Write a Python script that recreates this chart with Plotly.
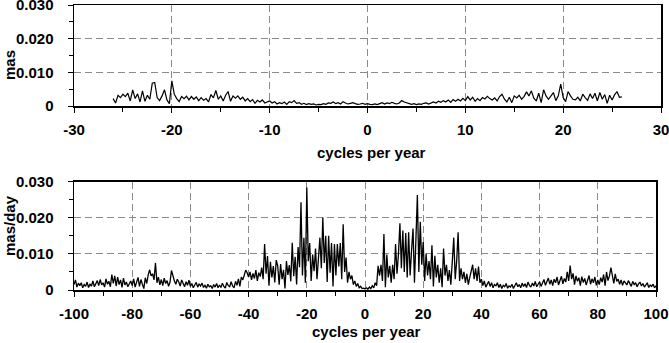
import plotly.graph_objects as go

# ---------------- data ----------------
# Top panel: amplitude spectrum in micro-arcseconds (µas), frequency grid -26 .. 26 cpy, step 0.25
top_freq_start = -26.0
top_freq_step = 0.25
top_amp_uas = [
    2.2, 0.9, 3.2, 2.5,   # -26
    3.5, 2.8, 3.8, 1.5,   # -25
    4.8, 2.2, 3.6, 1.2,   # -24
    4.5, 1.4, 3.2, 2.0,   # -23
    6.8, 7.0, 2.5, 1.6,   # -22
    3.0, 4.8, 1.8, 0.7,   # -21
    7.5, 3.5, 2.2, 1.3,   # -20
    2.8, 2.2, 2.9, 1.8,   # -19
    2.8, 2.0, 2.7, 1.6,   # -18
    2.5, 1.7, 2.2, 1.2,   # -17
    3.4, 2.4, 4.6, 2.0,   # -16
    3.0, 1.5, 3.2, 4.3,   # -15
    1.4, 3.0, 2.3, 3.0,   # -14
    2.0, 2.6, 1.5, 2.2,   # -13
    1.3, 1.9, 0.8, 1.7,   # -12
    1.2, 1.8, 0.9, 1.3,   # -11
    1.5, 0.9, 1.3, 0.6,   # -10
    1.0, 0.7, 1.2, 0.5,   # -9
    1.3, 1.0, 1.6, 0.8,   # -8
    1.0, 0.5, 0.8, 0.4,   # -7
    0.7, 0.5, 0.6, 0.3,   # -6
    0.5, 0.4, 0.7, 0.5,   # -5
    0.9, 0.8, 1.2, 0.7,   # -4
    1.0, 0.6, 1.3, 0.9,   # -3
    0.6, 0.8, 1.0, 0.7,   # -2
    0.5, 0.6, 0.8, 0.5,   # -1
    0.7, 0.5, 0.4, 0.6,   # 0
    0.4, 0.7, 1.0, 0.6,   # 1
    0.9, 0.7, 1.1, 0.8,   # 2
    0.6, 0.9, 1.6, 1.2,   # 3
    1.0, 0.8, 0.5, 0.7,   # 4
    0.4, 0.6, 0.5, 0.8,   # 5
    0.9, 0.6, 1.0, 1.2,   # 6
    0.9, 1.4, 1.1, 1.6,   # 7
    1.2, 1.8, 1.1, 1.9,   # 8
    1.4, 2.0, 1.5, 2.3,   # 9
    1.6, 2.8, 1.8, 2.6,   # 10
    1.4, 2.2, 1.6, 2.5,   # 11
    2.1, 2.9, 2.2, 1.8,   # 12
    2.4, 1.5, 2.8, 3.5,   # 13
    2.0, 1.2, 2.6, 1.0,   # 14
    3.0, 2.4, 3.2, 2.0,   # 15
    2.8, 4.2, 3.0, 4.5,   # 16
    2.3, 1.5, 3.8, 1.0,   # 17
    4.8, 3.0, 2.0, 3.2,   # 18
    4.0, 1.6, 3.0, 6.5,   # 19
    2.5, 1.3, 4.3, 3.0,   # 20
    2.0, 1.8, 2.6, 1.5,   # 21
    3.5, 2.5, 1.7, 3.6,   # 22
    2.2, 3.8, 1.5, 4.0,   # 23
    2.0, 3.4, 0.8, 3.2,   # 24
    1.8, 3.3, 4.3, 2.6,   # 25
    2.7,                  # 26
]

# Bottom panel: rate spectrum in µas/day, frequency grid -100 .. 100 cpy, step 0.5
bot_freq_start = -100.0
bot_freq_step = 0.5
bot_amp_uas_day = [
    1.5, 2.8, 0.8, 1.9, 1.2, 2.0, 0.6, 1.5, 1.0, 2.2,     # -100
    0.7, 1.6, 1.1, 2.5, 0.9, 1.8, 2.6, 1.2, 2.9, 1.4,     # -95
    2.0, 0.8, 3.1, 1.6, 2.4, 0.9, 4.3, 1.8, 3.9, 1.1,     # -90
    3.6, 1.5, 2.8, 0.7, 3.3, 1.4, 2.2, 0.9, 1.7, 2.5,     # -85
    1.2, 3.1, 0.8, 2.4, 3.5, 1.0, 2.9, 1.6, 0.4, 3.4,     # -80
    1.8, 4.2, 5.6, 3.9, 4.5, 2.8, 7.5, 2.0, 3.6, 1.4,     # -75
    2.9, 1.2, 3.3, 1.8, 2.6, 1.0, 2.2, 5.4, 3.8, 2.5,     # -70
    1.6, 3.0, 2.2, 1.1, 2.8, 1.5, 0.9, 2.3, 1.3, 2.7,     # -65
    1.0, 1.8, 0.6, 1.4, 2.1, 0.8, 1.7, 1.1, 1.9, 0.7,     # -60
    1.3, 0.5, 1.6, 0.9, 1.2, 0.4, 1.5, 0.8, 1.8, 0.6,     # -55
    1.4, 0.7, 1.9, 1.0, 0.5, 2.1, 1.2, 0.9, 2.3, 1.1,     # -50
    0.6, 2.4, 1.3, 3.1, 1.0, 3.6, 2.8, 4.1, 5.5, 4.8,     # -45
    3.6, 5.0, 2.8, 4.6, 3.2, 5.5, 2.5, 4.8, 3.7, 6.2,     # -40
    3.0, 12.7, 4.5, 9.4, 1.2, 7.8, 3.5, 6.6, 2.1, 8.3,    # -35
    6.7, 1.5, 7.2, 3.0, 5.6, 0.4, 8.0, 4.2, 6.9, 2.4,     # -30
    13.1, 3.8, 9.2, 1.5, 11.9, 6.3, 24.3, 4.0, 14.5, 2.0,  # -25
    28.4, 8.0, 13.0, 2.5, 9.8, 5.2, 11.5, 3.0, 10.0, 14.5, # -20
    6.0, 20.1, 7.5, 15.0, 2.2, 15.0, 4.8, 13.0, 1.0, 12.7, # -15
    4.0, 12.7, 6.5, 13.0, 3.0, 18.2, 5.0, 9.0, 2.0, 5.0,   # -10
    3.0, 4.0, 1.5, 2.5, 1.0, 1.8, 0.6, 1.0, 0.4, 0.5,      # -5
    0.3, 0.6, 0.2, 0.8, 0.4, 1.2, 0.6, 2.0, 1.2, 6.7,      # 0
    4.0, 7.0, 2.5, 15.5, 0.8, 9.8, 3.5, 6.7, 2.0, 7.0,     # 5
    3.0, 12.7, 4.5, 10.0, 18.5, 6.0, 16.5, 5.0, 15.8, 3.5, # 10
    16.0, 4.0, 11.0, 17.0, 2.0, 14.0, 26.3, 5.0, 18.9, 7.0, # 15
    13.3, 2.5, 10.1, 4.0, 8.0, 3.0, 12.4, 1.0, 9.5, 3.5,   # 20
    7.0, 2.0, 6.0, 0.8, 11.5, 4.0, 7.0, 2.5, 5.5, 1.5,     # 25
    8.0, 14.5, 3.0, 8.0, 16.0, 2.5, 6.0, 3.0, 5.0, 2.0,    # 30
    4.5, 1.5, 3.5, 5.5, 7.0, 3.0, 6.0, 2.5, 6.5, 2.0,      # 35
    3.0, 1.2, 2.5, 0.8, 1.8, 2.4, 1.0, 2.0, 0.6, 1.5,      # 40
    1.2, 2.0, 0.7, 1.6, 0.4, 1.3, 0.9, 1.8, 0.5, 1.1,      # 45
    0.8, 1.6, 0.4, 1.2, 2.0, 0.9, 1.5, 0.6, 1.9, 1.0,      # 50
    1.7, 0.7, 2.2, 1.3, 0.8, 1.9, 1.1, 2.4, 0.9, 1.6,      # 55
    2.3, 1.0, 1.8, 2.9, 1.3, 2.5, 3.3, 1.6, 2.8, 1.2,      # 60
    3.0, 2.0, 3.6, 1.4, 2.7, 3.8, 1.7, 3.2, 2.2, 5.0,      # 65
    2.5, 6.8, 3.0, 4.6, 1.5, 3.9, 2.4, 3.4, 1.2, 3.7,      # 70
    2.1, 3.2, 1.4, 2.9, 4.0, 1.6, 3.1, 2.0, 3.6, 1.3,      # 75
    2.8, 1.5, 3.4, 2.2, 4.3, 1.2, 5.0, 2.6, 3.9, 6.2,      # 80
    3.4, 1.8, 4.5, 2.4, 3.0, 1.6, 2.8, 1.3, 2.5, 1.9,      # 85
    1.4, 2.6, 1.8, 1.0, 2.4, 1.5, 2.0, 0.9, 1.7, 2.2,      # 90
    1.1, 1.8, 0.8, 1.5, 2.0, 0.7, 1.4, 1.0, 1.6, 0.6,      # 95
    1.2,                                                   # 100
]

y_tick_vals = [0, 0.010, 0.020, 0.030]
y_tick_text = ["0", "0.010", "0.020", "0.030"]
top_x_ticks = [-30, -20, -10, 0, 10, 20, 30]
top_x_text = ["-30", "-20", "-10", "0", "10", "20", "30"]
bot_x_ticks = [-100, -80, -60, -40, -20, 0, 20, 40, 60, 80, 100]
bot_x_text = ["-100", "-80", "-60", "-40", "-20", "0", "20", "40", "60", "80", "100"]
x_title = "cycles per year"
top_y_title = "mas"
bot_y_title = "mas/day"

# frequency grids (uniform sampling) and unit conversion µas -> mas
top_x = [top_freq_start + i * top_freq_step for i in range(len(top_amp_uas))]
top_y = [v / 1000.0 for v in top_amp_uas]
bot_x = [bot_freq_start + i * bot_freq_step for i in range(len(bot_amp_uas_day))]
bot_y = [v / 1000.0 for v in bot_amp_uas_day]

# ---------------- figure ----------------
W, H = 669, 343
ML, MR, MT, MB = 74, 8, 5, 53
PW, PH = W - ML - MR, H - MT - MB

def fy(py):  # pixel row -> paper fraction
    return (H - MB - py) / PH

def fx(px):  # pixel column -> paper fraction
    return (px - ML) / PW

FONT = "Liberation Sans, Arial, sans-serif"
tick_font = dict(family=FONT, size=15, color="black", weight="bold")
grid_kw = dict(showgrid=True, gridcolor="#8a8a8a", gridwidth=1, griddash="7px,4px")

fig = go.Figure()
fig.add_trace(go.Scatter(x=top_x, y=top_y, mode="lines",
                         line=dict(color="black", width=1.2),
                         xaxis="x", yaxis="y", showlegend=False, hoverinfo="skip"))
fig.add_trace(go.Scatter(x=bot_x, y=bot_y, mode="lines",
                         line=dict(color="black", width=1.3),
                         xaxis="x2", yaxis="y2", showlegend=False, hoverinfo="skip"))

common_x = dict(showline=True, linecolor="black", linewidth=1.5, mirror=True,
                ticks="outside", ticklen=5, tickcolor="black", zeroline=False,
                automargin=False, ticklabeloverflow="allow",
                tickfont=tick_font, ticklabelstandoff=4, **grid_kw)
common_y = dict(showline=True, linecolor="black", linewidth=1.5, mirror=True,
                ticks="outside", ticklen=5, tickcolor="black", zeroline=False,
                automargin=False, ticklabeloverflow="allow",
                tickfont=tick_font, range=[0, 0.03], ticklabelstandoff=11,
                tickvals=y_tick_vals, ticktext=y_tick_text,
                minor=dict(ticks="outside", ticklen=4, dtick=0.005, tickcolor="black",
                           showgrid=False),
                **grid_kw)

fig.update_layout(
    template="none",
    width=W, height=H, autosize=False,
    margin=dict(l=ML, r=MR, t=MT, b=MB, pad=0),
    paper_bgcolor="white", plot_bgcolor="white",
    showlegend=False,
    xaxis=dict(domain=[0, 1], anchor="y", range=[-30, 30],
               tickvals=top_x_ticks, ticktext=top_x_text,
               minor=dict(ticks="outside", ticklen=4, dtick=5, tick0=0, tickcolor="black",
                          showgrid=False),
               **common_x),
    yaxis=dict(domain=[fy(106), fy(5)], anchor="x", **common_y),
    xaxis2=dict(domain=[0, fx(656)], anchor="y2", range=[-100, 100],
                tickvals=bot_x_ticks, ticktext=bot_x_text,
                minor=dict(ticks="outside", ticklen=4, dtick=10, tick0=0, tickcolor="black",
                           showgrid=False),
                **common_x),
    yaxis2=dict(domain=[0, fy(181.7)], anchor="x2", **common_y),
)

# axis titles placed as annotations
title_specs = [
    (x_title, fx(372), fy(152), 0),
    (x_title, fx(366), fy(331), 0),
    (top_y_title, fx(9), fy(65), -90),
    (bot_y_title, fx(9), fy(226), -90),
]
for text, ax_, ay_, ang in title_specs:
    fig.add_annotation(text=text, x=ax_, y=ay_, xref="paper", yref="paper",
                       xanchor="center", yanchor="middle", showarrow=False,
                       textangle=ang, font=tick_font)

# remove the browser's default 8px body margin so the figure sits at the page origin
fig.write_html("out.html",
               config={"displayModeBar": False, "staticPlot": True},
               post_script="document.body.style.margin='0px';"
                           "document.body.style.overflow='hidden';")
